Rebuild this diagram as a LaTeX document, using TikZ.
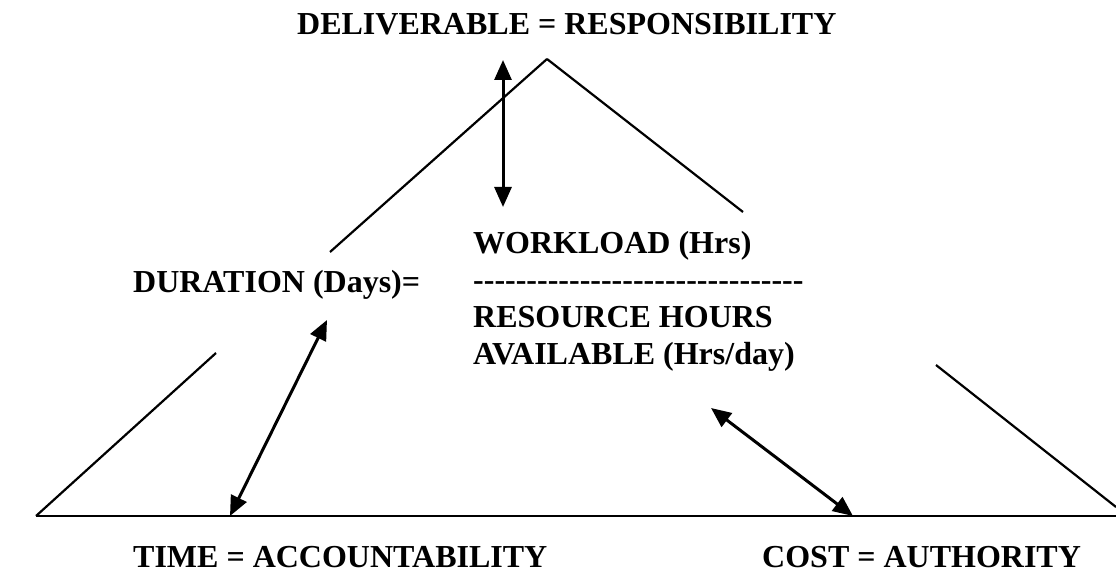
\documentclass[tikz,border=0pt]{standalone}
\usepackage{fontspec}
\newfontfamily\tnr{Liberation Serif}
\usetikzlibrary{arrows.meta}
\tikzset{
  lbl/.style={anchor=base west, inner sep=0pt, font=\tnr\bfseries\fontsize{32}{37}\selectfont},
  edge/.style={line width=2.2pt},
  dbl/.style={line width=3pt, {Triangle[length=20pt,width=17pt]}-{Triangle[length=20pt,width=17pt]}}
}
\begin{document}
\begin{tikzpicture}[x=1pt,y=-1pt]
\useasboundingbox (0,0) rectangle (1116,572);
% titles
\node[lbl] (deliv) at (297,35) {DELIVERABLE = RESPONSIBILITY};
\node[lbl] (dur) at (133,292) {DURATION (Days)=};
\node[lbl, align=left, anchor=north west] (frac) at (473,231) {WORKLOAD (Hrs)\\-------------------------------\\RESOURCE HOURS\\AVAILABLE (Hrs/day)};
\node[lbl] (time) at (133,567) {TIME = ACCOUNTABILITY};
\node[lbl] (cost) at (762,567) {COST = AUTHORITY};
% triangle
\coordinate (apex) at (547,59);
\coordinate (bl) at (36,516);
\coordinate (br) at (1116,516);
\draw[edge] (apex) -- (330,252);
\draw[edge] (216,353) -- (bl);
\draw[edge] (apex) -- (743,212);
\draw[edge] (936,365) -- (1116,507);
\draw[edge] (bl) -- (br);
% arrows
\coordinate (a1) at (503,60);
\coordinate (a2) at (503,207);
\coordinate (b1) at (327,320);
\coordinate (b2) at (230,516);
\coordinate (c1) at (711,408);
\coordinate (c2) at (853,516);
\draw[dbl] (a1) -- (a2);
\draw[dbl] (b1) -- (b2);
\draw[dbl] (c1) -- (c2);
\end{tikzpicture}
\end{document}
